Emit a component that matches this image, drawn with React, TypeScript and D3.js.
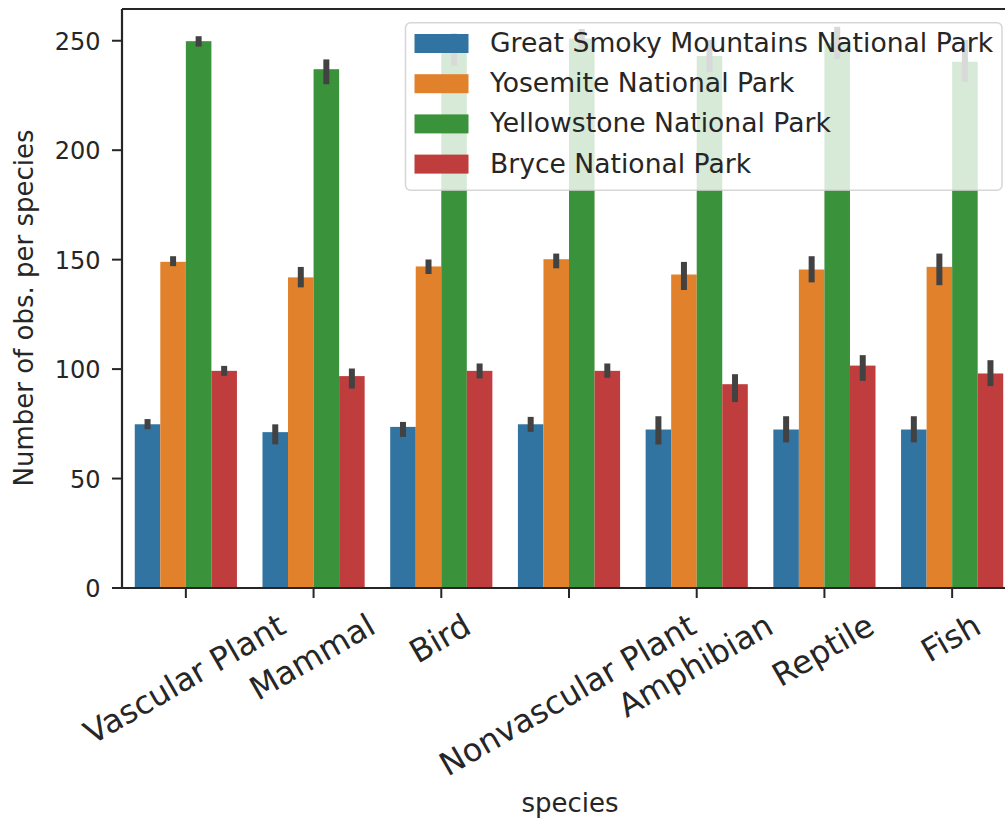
import React from "react";
import * as d3 from "d3";

// Species categories on the x axis
const species = [
  "Vascular Plant",
  "Mammal",
  "Bird",
  "Nonvascular Plant",
  "Amphibian",
  "Reptile",
  "Fish",
];

// Hue groups (parks) and their colours
const parks = [
  "Great Smoky Mountains National Park",
  "Yosemite National Park",
  "Yellowstone National Park",
  "Bryce National Park",
];
const parkColors = ["#3274a1", "#e1812c", "#3a923a", "#c03d3e"];

// Mean number of observations per species, one value per category
const greatSmokyMean = [74.8, 71.2, 73.6, 74.8, 72.4, 72.4, 72.4];
const yosemiteMean = [149.0, 141.9, 146.9, 150.2, 143.2, 145.5, 146.7];
const yellowstoneMean = [249.8, 237.0, 246.0, 251.0, 243.0, 249.0, 240.4];
const bryceMean = [99.2, 96.8, 99.2, 99.2, 93.1, 101.6, 98.0];

// Confidence intervals [low, high] per category
const greatSmokyCI = [
  [73.9, 75.8], [67.0, 73.4], [70.4, 74.5], [72.7, 76.8], [66.9, 77.1], [67.9, 77.1], [67.9, 77.1],
];
const yosemiteCI = [
  [148.4, 150.2], [138.7, 145.3], [144.8, 148.7], [147.4, 151.4], [137.5, 147.6], [141.0, 150.2], [139.7, 151.4],
];
const yellowstoneCI = [
  [248.7, 250.7], [231.5, 240.1], [240.0, 252.0], [248.0, 254.0], [237.0, 249.0], [243.0, 255.0], [232.6, 249.0],
];
const bryceCI = [
  [98.3, 100.1], [92.5, 98.9], [97.1, 101.2], [97.4, 101.2], [86.3, 96.3], [96.0, 105.0], [93.6, 102.7],
];

const yTicks = [0, 50, 100, 150, 200, 250];

const means = [greatSmokyMean, yosemiteMean, yellowstoneMean, bryceMean];
const cis = [greatSmokyCI, yosemiteCI, yellowstoneCI, bryceCI];

const W = 1005;
const H = 819;
const plot = { left: 122, right: 1016, top: 9, bottom: 588 };
const FONT = "'DejaVu Sans', 'Liberation Sans', sans-serif";
const INK = "#262626";

let measureCtx: CanvasRenderingContext2D | null = null;
function textWidth(text: string, size: number): number {
  if (!measureCtx) {
    const c = document.createElement("canvas");
    measureCtx = c.getContext("2d");
  }
  if (!measureCtx) return text.length * size * 0.6;
  measureCtx.font = `${size}px 'DejaVu Sans'`;
  return measureCtx.measureText(text).width;
}

export default function App() {
  const x = d3
    .scaleBand<string>()
    .domain(species)
    .range([plot.left, plot.right])
    .paddingInner(0)
    .paddingOuter(0);
  const step = x.step();
  const inner = d3
    .scaleBand<string>()
    .domain(parks)
    .range([step * 0.1, step * 0.9])
    .paddingInner(0)
    .paddingOuter(0);
  const y = d3.scaleLinear().domain([0, 264.5]).range([plot.bottom, plot.top]);

  const tickFont = 24;
  const xTickFont = 32;
  const labelFont = 26;
  const legendFont = 26.6;
  const angle = 30;
  const rad = (angle * Math.PI) / 180;
  const xLabelTop = 611;

  const legend = { x: 405.5, y: 22.7, w: 596.5, h: 167.5 };
  const rowCenters = parks.map((_, i) => 43.5 + i * 40.2);

  return (
    <svg
      width={W}
      height={H}
      style={{ position: "absolute", left: 0, top: 0, background: "#fff" }}
      fontFamily={FONT}
    >
      <rect x={0} y={0} width={W} height={H} fill="#fff" />

      {/* bars */}
      {parks.map((park, pi) => (
        <g key={park}>
          {species.map((sp, si) => (
            <rect
              key={sp}
              x={(x(sp) ?? 0) + (inner(park) ?? 0)}
              y={y(means[pi][si])}
              width={inner.bandwidth()}
              height={y(0) - y(means[pi][si])}
              fill={parkColors[pi]}
            />
          ))}
        </g>
      ))}

      {/* error bars */}
      {parks.map((park, pi) => (
        <g key={park + "-err"}>
          {species.map((sp, si) => {
            const cx = (x(sp) ?? 0) + (inner(park) ?? 0) + inner.bandwidth() / 2;
            return (
              <line
                key={sp}
                x1={cx}
                x2={cx}
                y1={y(cis[pi][si][0])}
                y2={y(cis[pi][si][1])}
                stroke="#424242"
                strokeWidth={6}
                strokeLinecap="square"
              />
            );
          })}
        </g>
      ))}

      {/* spines */}
      <line x1={plot.left} x2={plot.left} y1={plot.top} y2={plot.bottom} stroke={INK} strokeWidth={2.2} />
      <line x1={plot.left} x2={plot.right} y1={plot.bottom} y2={plot.bottom} stroke={INK} strokeWidth={2.2} />
      <line x1={plot.left} x2={plot.right} y1={plot.top} y2={plot.top} stroke={INK} strokeWidth={2.2} />
      <line x1={plot.right} x2={plot.right} y1={plot.top} y2={plot.bottom} stroke={INK} strokeWidth={2.2} />

      {/* y axis ticks */}
      {yTicks.map((t) => (
        <g key={t}>
          <line x1={plot.left - 10} x2={plot.left} y1={y(t)} y2={y(t)} stroke={INK} strokeWidth={2} />
          <text
            x={100.5}
            y={y(t) + 9}
            fontSize={tickFont}
            textAnchor="end"
            fill={INK}
          >
            {t}
          </text>
        </g>
      ))}

      {/* x axis ticks and rotated labels */}
      {species.map((sp) => {
        const cx = (x(sp) ?? 0) + step / 2;
        const w = textWidth(sp, xTickFont);
        const h = xTickFont;
        const boxH = w * Math.sin(rad) + h * Math.cos(rad);
        const cy = xLabelTop + boxH / 2;
        return (
          <g key={sp}>
            <line x1={cx} x2={cx} y1={plot.bottom} y2={plot.bottom + 10} stroke={INK} strokeWidth={2} />
            <text
              transform={`translate(${cx},${cy}) rotate(${-angle})`}
              x={0}
              y={0.26 * xTickFont}
              fontSize={xTickFont}
              textAnchor="middle"
              fill={INK}
            >
              {sp}
            </text>
          </g>
        );
      })}

      {/* axis labels */}
      <text x={570} y={812} fontSize={labelFont} textAnchor="middle" fill={INK}>
        species
      </text>
      <text
        transform={`translate(32.5,308) rotate(-90)`}
        x={0}
        y={0}
        fontSize={labelFont}
        textAnchor="middle"
        fill={INK}
      >
        Number of obs. per species
      </text>

      {/* legend */}
      <g>
        <rect
          x={legend.x}
          y={legend.y}
          width={legend.w}
          height={legend.h}
          rx={5}
          ry={5}
          fill="#ffffff"
          fillOpacity={0.8}
          stroke="#cccccc"
          strokeOpacity={0.8}
          strokeWidth={1.5}
        />
        {parks.map((park, i) => (
          <g key={park + "-leg"}>
            <rect
              x={414.5}
              y={rowCenters[i] - 9.5}
              width={54}
              height={19}
              fill={parkColors[i]}
            />
            <text
              x={490}
              y={rowCenters[i] + 8.4}
              fontSize={legendFont}
              fill={INK}
            >
              {park}
            </text>
          </g>
        ))}
      </g>
    </svg>
  );
}
